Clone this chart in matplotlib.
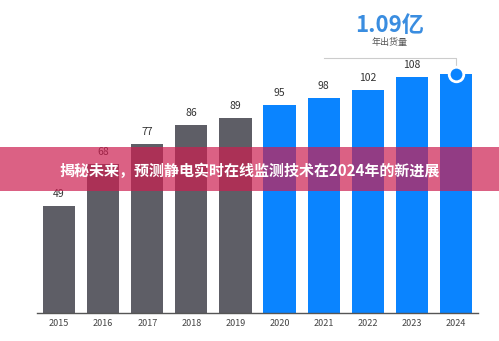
import matplotlib
matplotlib.use("Agg")
import matplotlib.pyplot as plt
from matplotlib.patches import Rectangle

plt.rcParams['font.family'] = ['Noto Sans CJK SC', 'DejaVu Sans']

years = ['2015', '2016', '2017', '2018', '2019', '2020', '2021', '2022', '2023', '2024']
values = [49, 68, 77, 86, 89, 95, 98, 102, 108, 109]
labels = ['49', '68', '77', '86', '89', '95', '98', '102', '108', '']
highlight_text = '1.09亿'
highlight_sub = '年出货量'
title = '揭秘未来，预测静电实时在线监测技术在2024年的新进展'

W, H = 499, 341
fig = plt.figure(figsize=(W / 100, H / 100), dpi=100)
ax = fig.add_axes([37 / W, 28 / H, 441 / W, 313 / H])
ax.set_xlim(-0.5, 9.5)
ax.set_ylim(0, 143)

gray = '#5e5e66'
blue = '#0a84ff'
colors = [gray] * 5 + [blue] * 5
x = list(range(len(years)))
ax.bar(x, values, width=0.73, color=colors, zorder=2)
for xi, v, lab in zip(x, values, labels):
    if lab:
        ax.text(xi, v + 3.2, lab, ha='center', va='bottom', fontsize=7.5, color='#333333')

for s in ['top', 'right', 'left']:
    ax.spines[s].set_visible(False)
ax.spines['bottom'].set_color('#555555')
ax.spines['bottom'].set_linewidth(1.0)
ax.set_yticks([])
ax.set_xticks(x)
ax.set_xticklabels(years, fontsize=6.5, color='#444444')
ax.tick_params(axis='x', length=0, pad=4)

# highlight annotation for last bar
last = x[-1]
ax.plot([last - 3.0, last, last], [116.5, 116.5, values[-1]], color='#cccccc', lw=0.8, zorder=1)
ax.scatter([last], [values[-1]], s=110, color=blue, edgecolor='white', linewidth=2, zorder=3)
ax.text(last - 1.5, 131.5, highlight_text, ha='center', va='center', fontsize=16, color='#3a8de0',
        fontweight='bold')
ax.text(last - 1.5, 123.5, highlight_sub, ha='center', va='center', fontsize=6.5, color='#555555')

# banner overlay
fig.patches.append(Rectangle((0, (H - 191) / H), 1, 44 / H, transform=fig.transFigure,
                             facecolor=(205 / 255, 30 / 255, 80 / 255), alpha=0.7, zorder=10))
fig.text(0.5, (H - 171) / H, title, ha='center', va='center', fontsize=10.8, color='white',
         fontweight='bold', zorder=11)

fig.savefig('out.png', dpi=100)
